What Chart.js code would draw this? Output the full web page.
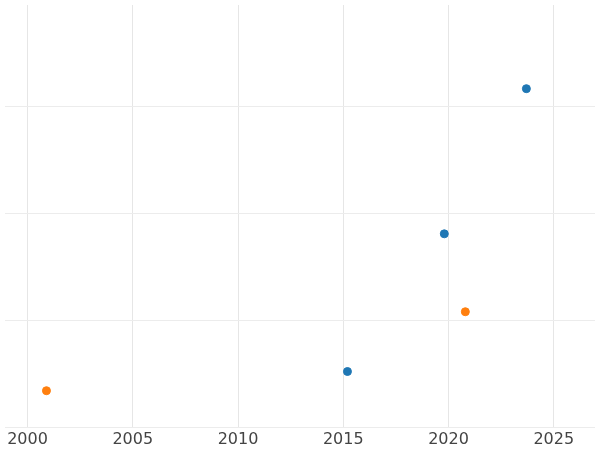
<!DOCTYPE html>
<html><head><meta charset="utf-8">
<script src="https://cdn.jsdelivr.net/npm/chart.js@4"></script>
<style>html,body{margin:0;padding:0;background:#fff}#w{width:600px;height:450px}</style>
</head><body><div id="w"><canvas id="c"></canvas></div>
<script>
const xTicks = [2000, 2005, 2010, 2015, 2020, 2025];
const blueX = [2015.2, 2019.8, 2023.7];
const blueY = [0.52, 1.81, 3.17];
const orangeX = [2000.9, 2020.8];
const orangeY = [0.34, 1.08];
const mk = (xs, ys) => xs.map((x, i) => ({x, y: ys[i]}));
new Chart(document.getElementById('c'), {
  type: 'scatter',
  data: { datasets: [
    { data: mk(blueX, blueY), backgroundColor: '#1f77b4', borderColor: '#1f77b4', pointRadius: 4 },
    { data: mk(orangeX, orangeY), backgroundColor: '#ff7f0e', borderColor: '#ff7f0e', pointRadius: 4 }
  ]},
  options: {
    responsive: true, maintainAspectRatio: false, animation: false,
    layout: { padding: 0 },
    plugins: { legend: { display: false }, tooltip: { enabled: false } },
    scales: {
      x: { type: 'linear', min: 1998.93, max: 2026.96,
        afterBuildTicks: a => { a.ticks = xTicks.map(v => ({value: v})); },
        afterFit: a => { a.height = 23; },
        grid: { color: '#e6e6e6', drawTicks: false },
        border: { display: false },
        ticks: { color: '#444', font: { size: 16, family: 'DejaVu Sans' }, padding: 3, maxRotation: 0, callback: v => String(v) } },
      y: { min: 0, max: 3.954,
        afterBuildTicks: a => { a.ticks = [0,1,2,3].map(v => ({value: v})); },
        afterFit: a => { a.width = 0; },
        grid: { color: '#ececec', drawTicks: false },
        border: { display: false },
        ticks: { display: false } }
    }
  }
});
</script></body></html>
